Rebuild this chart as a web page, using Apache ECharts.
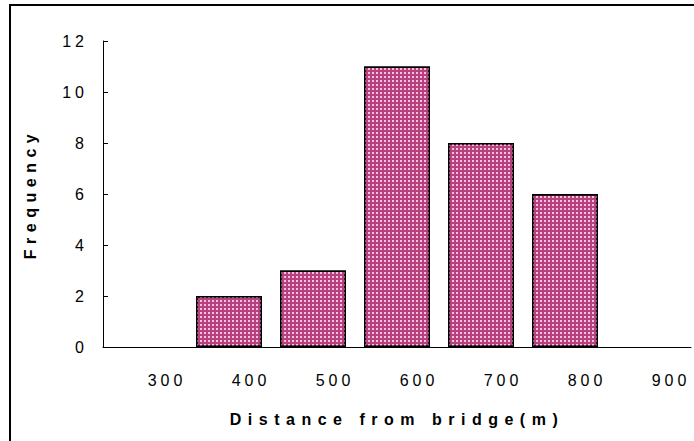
<!DOCTYPE html>
<html>
<head>
<meta charset="utf-8">
<script src="https://cdn.jsdelivr.net/npm/echarts@6/dist/echarts.min.js"></script>
<style>
html,body{margin:0;padding:0;background:#fff;}
#chart{width:694px;height:441px;}
#chart image{image-rendering:pixelated;}
</style>
</head>
<body>
<div id="chart"></div>
<script>
var categories = ['300', '400', '500', '600', '700', '800', '900'];
var frequency = [null, 2, 3, 11, 8, 6, null];
var yTicks = [0, 2, 4, 6, 8, 10, 12];
var xTitle = 'Distance from bridge(m)';
var yTitle = 'Frequency';

var chart = echarts.init(document.getElementById('chart'), null, {renderer: 'svg'});
var font = 'Liberation Sans, Arial, sans-serif';
chart.setOption({
  animation: false,
  backgroundColor: '#fff',
  graphic: [{
    type: 'rect',
    shape: {x: 10, y: 5, width: 900, height: 900},
    style: {fill: 'none', stroke: '#000', lineWidth: 2},
    silent: true,
    z: -1
  }],
  grid: {left: 103, top: 41, right: 3, bottom: 94, containLabel: false},
  xAxis: {
    type: 'category',
    data: categories,
    boundaryGap: true,
    name: xTitle,
    nameLocation: 'middle',
    nameGap: 64,
    nameTextStyle: {fontFamily: font, fontSize: 16, fontWeight: 'bold', color: '#000'},
    axisLine: {lineStyle: {color: '#000', width: 1}},
    axisTick: {inside: true, length: 4, lineStyle: {color: '#000'}},
    axisLabel: {fontFamily: font, fontSize: 16, color: '#000', margin: 25, padding: [0, 0, 0, 44]},
    splitLine: {show: false}
  },
  yAxis: {
    type: 'value',
    min: yTicks[0],
    max: yTicks[yTicks.length - 1],
    interval: 2,
    name: yTitle,
    nameLocation: 'middle',
    nameGap: 65,
    nameTextStyle: {fontFamily: font, fontSize: 16, fontWeight: 'bold', color: '#000'},
    axisLine: {show: true, lineStyle: {color: '#000', width: 1}},
    axisTick: {show: true, inside: true, length: 5, lineStyle: {color: '#000'}},
    axisLabel: {fontFamily: font, fontSize: 16, color: '#000', margin: 15},
    splitLine: {show: false}
  },
  aria: {enabled: false, decal: {show: true}},
  series: [{
    type: 'bar',
    data: frequency,
    barWidth: 66,
    itemStyle: {
      color: '#b8407f',
      borderColor: '#000',
      borderWidth: 1.5,
      decal: {
        symbol: 'rect',
        symbolSize: 1,
        color: '#f3c3de',
        dashArrayX: [2, 2],
        dashArrayY: [2, 2],
        rotation: 0
      }
    }
  }]
});

function spaceText() {
  var texts = document.querySelectorAll('#chart text');
  texts.forEach(function (t) {
    var s = t.textContent;
    if (s === xTitle) {
      t.style.letterSpacing = '6.5px';
    } else if (s === yTitle) {
      t.style.letterSpacing = '5.5px';
    } else {
      t.style.letterSpacing = '4px';
    }
  });
}
spaceText();
chart.on('finished', spaceText);
</script>
</body>
</html>
